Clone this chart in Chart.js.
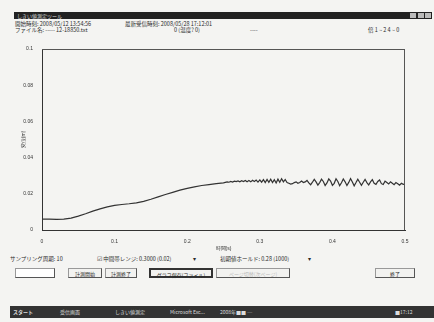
<!DOCTYPE html>
<html lang="ja">
<head>
<meta charset="utf-8">
<script src="https://cdn.jsdelivr.net/npm/chart.js@4/dist/chart.umd.min.js"></script>
<style>
  html, body { margin: 0; padding: 0; }
  body { width: 434px; height: 322px; background: #f4f4f2; position: relative; overflow: hidden;
         font-family: "Noto Sans CJK JP", "Noto Sans", sans-serif; color: #2a2a2a; }
  .abs { position: absolute; white-space: nowrap; font-size: 5.5px; line-height: 6px; }
  #titlebar { position: absolute; left: 14px; top: 12px; width: 418px; height: 7px; background: #222; }
  #titlebar span { position: absolute; left: 3px; top: 0; font-size: 5px; line-height: 7px; color: #ddd; }
  #titlebar i { position: absolute; top: 1px; width: 6px; height: 5px; background: #bbb; }
  .btn { position: absolute; top: 268px; height: 10px; border: 1px solid #999; border-right-color: #555; border-bottom-color: #555;
         background: #f2f2f0; font-size: 5px; line-height: 9px; text-align: center; box-sizing: border-box; }
  .btn.dim { color: #bbb; }
  .btn.sel { border: 2px solid #333; }
  #chartbox { position: absolute; left: 0; top: 40px; width: 434px; height: 212px; }
  #taskbar { position: absolute; left: 10px; top: 306px; width: 424px; height: 12px; background: #333; }
  #taskbar span { position: absolute; top: 0; font-size: 5px; line-height: 12px; color: #ddd; }
</style>
</head>
<body>
<div id="titlebar"><span>しきい値測定ツール</span><i style="left:396px"></i><i style="left:404px"></i><i style="left:411px"></i></div>
<div class="abs" style="left:15px;top:21px">開始時刻: 2008/05/12 13:54:56</div>
<div class="abs" style="left:125px;top:21px">最新受信時刻: 2008/05/28 17:12:01</div>
<div class="abs" style="left:15px;top:27px">ファイル名: ----- 12-18850.txt</div>
<div class="abs" style="left:174px;top:27px">0 (温度? 0)</div>
<div class="abs" style="left:250px;top:27px">----</div>
<div class="abs" style="left:368px;top:27px">倍 1 ~ 2 4 ~ 0</div>

<div id="chartbox"><canvas id="chart"></canvas></div>

<div class="abs" style="left:10px;top:256px">サンプリング周期: 10</div>
<div class="abs" style="left:97px;top:256px">☑ 中間帯レンジ: 0.3000 (0.02)</div>
<div class="abs" style="left:193px;top:256px">▾</div>
<div class="abs" style="left:220px;top:256px">初期値ホールド: 0.28 (1000)</div>
<div class="abs" style="left:308px;top:256px">▾</div>
<div class="btn" style="left:15px;width:40px;background:#fff"></div>
<div class="btn" style="left:68px;width:34px">計測開始</div>
<div class="btn" style="left:105px;width:32px">計測終了</div>
<div class="btn sel" style="left:149px;width:64px">グラフ保存(ファイル)</div>
<div class="btn dim" style="left:216px;width:74px">ページ切替(次ページ)</div>
<div class="btn" style="left:375px;width:40px">終了</div>

<div id="taskbar">
  <span style="left:3px;font-weight:bold">スタート</span>
  <span style="left:50px">受信画面</span>
  <span style="left:105px">しきい値測定</span>
  <span style="left:160px">Microsoft Exc...</span>
  <span style="left:210px">2008年■■ ─</span>
  <span style="left:385px">■17:12</span>
</div>

<script>
// 時間(s)
var times = [
  0, 0.01, 0.02, 0.03, 0.04, 0.05, 0.06, 0.07, 0.08, 0.09,
  0.10, 0.11, 0.12, 0.13, 0.14, 0.15, 0.16, 0.17, 0.18, 0.19,
  0.20, 0.21, 0.22, 0.23, 0.24, 0.25,
  0.2525, 0.255, 0.2575, 0.26, 0.2625, 0.265, 0.2675, 0.27, 0.2725, 0.275,
  0.2775, 0.28, 0.2825, 0.285, 0.2875, 0.29, 0.2925, 0.295, 0.2975, 0.30,
  0.3025, 0.305, 0.3075, 0.31, 0.3125, 0.315, 0.3175, 0.32, 0.3225, 0.325,
  0.3275, 0.33, 0.3325, 0.335, 0.3375, 0.34, 0.3425, 0.345, 0.3475, 0.35,
  0.3525, 0.355, 0.3575, 0.36, 0.3625, 0.365, 0.3675, 0.37, 0.3725, 0.375,
  0.3775, 0.38, 0.3825, 0.385, 0.3875, 0.39, 0.3925, 0.395, 0.3975, 0.40,
  0.4025, 0.405, 0.4075, 0.41, 0.4125, 0.415, 0.4175, 0.42, 0.4225, 0.425,
  0.4275, 0.43, 0.4325, 0.435, 0.4375, 0.44, 0.4425, 0.445, 0.4475, 0.45,
  0.4525, 0.455, 0.4575, 0.46, 0.4625, 0.465, 0.4675, 0.47, 0.4725, 0.475,
  0.4775, 0.48, 0.4825, 0.485, 0.4875, 0.49, 0.4925, 0.495, 0.4975, 0.50
];
// 変位
var disp = [
  0.0060, 0.0060, 0.0059, 0.0060, 0.0066, 0.0077, 0.0090, 0.0104, 0.0117, 0.0128,
  0.0136, 0.0141, 0.0145, 0.0150, 0.0158, 0.0170, 0.0183, 0.0196, 0.0208, 0.0220,
  0.0230, 0.0238, 0.0246, 0.0251, 0.0256, 0.0260,
  0.0263, 0.0266, 0.0264, 0.0268, 0.0265, 0.0270, 0.0267, 0.0271, 0.0266, 0.0272,
  0.0268, 0.0274, 0.0267, 0.0273, 0.0266, 0.0275, 0.0268, 0.0276, 0.0265, 0.0277,
  0.0264, 0.0278, 0.0262, 0.0279, 0.0263, 0.0280, 0.0262, 0.0278, 0.0260, 0.0281,
  0.0264, 0.0283, 0.0266, 0.0279, 0.0262, 0.0258, 0.0254, 0.0256, 0.0262, 0.0266,
  0.0258, 0.0262, 0.0270, 0.0262, 0.0266, 0.0274, 0.0260, 0.0250, 0.0264, 0.0280,
  0.0266, 0.0248, 0.0262, 0.0281, 0.0268, 0.0246, 0.0260, 0.0282, 0.0270, 0.0247,
  0.0258, 0.0283, 0.0268, 0.0245, 0.0261, 0.0282, 0.0266, 0.0246, 0.0263, 0.0284,
  0.0265, 0.0244, 0.0262, 0.0281, 0.0264, 0.0247, 0.0264, 0.0280, 0.0262, 0.0249,
  0.0266, 0.0278, 0.0258, 0.0252, 0.0268, 0.0276, 0.0256, 0.0251, 0.0270, 0.0262,
  0.0254, 0.0266, 0.0258, 0.0250, 0.0262, 0.0255, 0.0248, 0.0258, 0.0252, 0.0254
];
var xTicks = [0, 0.1, 0.2, 0.3, 0.4, 0.5];
var yTicks = [0, 0.02, 0.04, 0.06, 0.08, 0.1];

var pts = times.map(function (t, i) { return { x: t, y: disp[i] }; });

function fixTicks(list) {
  return function (axis) { axis.ticks = list.map(function (v) { return { value: v }; }); };
}

new Chart(document.getElementById('chart'), {
  type: 'line',
  data: { datasets: [{ data: pts, borderColor: '#333', borderWidth: 1.2, pointRadius: 0, tension: 0 }] },
  options: {
    responsive: true, maintainAspectRatio: false, animation: false,
    layout: { padding: { left: 21, right: 29, top: 9, bottom: 0 } },
    plugins: { legend: { display: false }, tooltip: { enabled: false } },
    scales: {
      x: {
        type: 'linear', min: 0, max: 0.5,
        afterBuildTicks: fixTicks(xTicks),
        afterFit: function (a) { a.height = 22; },
        grid: { display: false, drawTicks: true },
        border: { color: '#333', width: 1 },
        ticks: { color: '#333', font: { size: 5 }, padding: 1, maxRotation: 0,
                 callback: function (v) { return String(v); } },
        title: { display: true, text: '時間(s)', color: '#333', font: { size: 5 }, padding: 0 }
      },
      y: {
        min: 0, max: 0.1,
        afterBuildTicks: fixTicks(yTicks),
        afterFit: function (a) { a.width = 21; },
        grid: { display: false },
        border: { color: '#333', width: 1 },
        ticks: { color: '#333', font: { size: 5 }, padding: 1,
                 callback: function (v) { return String(v); } },
        title: { display: true, text: '変位(m)', color: '#333', font: { size: 5 }, padding: 0 }
      }
    }
  },
  plugins: [{
    id: 'frame',
    afterDraw: function (c) {
      var a = c.chartArea, ctx = c.ctx;
      ctx.save();
      ctx.strokeStyle = '#555'; ctx.lineWidth = 1;
      ctx.beginPath();
      ctx.moveTo(a.left, a.top + 0.5); ctx.lineTo(a.right, a.top + 0.5);
      ctx.moveTo(a.right - 0.5, a.top); ctx.lineTo(a.right - 0.5, a.bottom);
      ctx.stroke();
      ctx.restore();
    }
  }]
});
</script>
</body>
</html>
